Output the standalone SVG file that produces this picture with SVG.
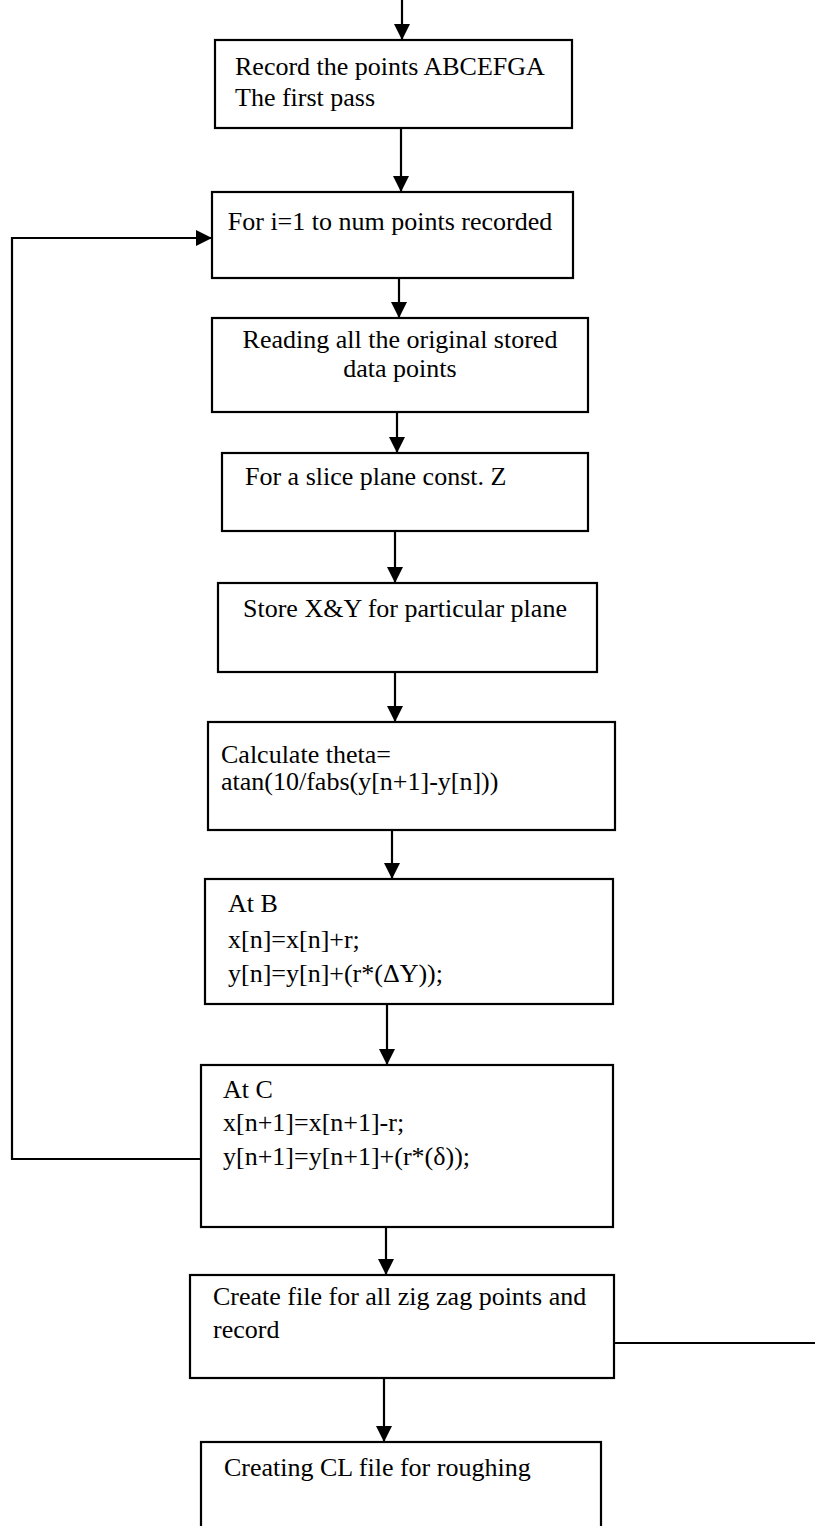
<svg xmlns="http://www.w3.org/2000/svg" width="815" height="1526" viewBox="0 0 815 1526">
  <style>
    .box { fill: #ffffff; stroke: #000000; stroke-width: 2.2; }
    .edge { fill: none; stroke: #000000; stroke-width: 2.2; }
    .t { font-family: "Liberation Serif", "Times New Roman", serif; font-size: 26px; fill: #000000; }
    .c { text-anchor: middle; }
  </style>
  <defs>
    <marker id="arr" markerUnits="userSpaceOnUse" markerWidth="16" markerHeight="16" refX="16" refY="8" orient="auto">
      <path d="M0,0 L16,8 L0,16 Z" fill="#000000"/>
    </marker>
  </defs>
  <rect width="815" height="1526" fill="#ffffff"/>

  <g id="connectors">
    <line class="edge" x1="402" y1="0" x2="402" y2="40" marker-end="url(#arr)"/>
    <line class="edge" x1="401" y1="128" x2="401" y2="192" marker-end="url(#arr)"/>
    <line class="edge" x1="399" y1="278" x2="399" y2="318" marker-end="url(#arr)"/>
    <line class="edge" x1="397" y1="412" x2="397" y2="453" marker-end="url(#arr)"/>
    <line class="edge" x1="395" y1="531" x2="395" y2="583" marker-end="url(#arr)"/>
    <line class="edge" x1="395" y1="672" x2="395" y2="722" marker-end="url(#arr)"/>
    <line class="edge" x1="392" y1="830" x2="392" y2="879" marker-end="url(#arr)"/>
    <line class="edge" x1="387" y1="1004" x2="387" y2="1065" marker-end="url(#arr)"/>
    <line class="edge" x1="386" y1="1227" x2="386" y2="1275" marker-end="url(#arr)"/>
    <line class="edge" x1="384" y1="1378" x2="384" y2="1442" marker-end="url(#arr)"/>
    <polyline class="edge" points="201,1159 12,1159 12,238 212,238" marker-end="url(#arr)"/>
    <line class="edge" x1="614" y1="1343" x2="815" y2="1343"/>
  </g>

  <g id="n1">
    <rect class="box" x="215" y="40" width="357" height="88"/>
    <text class="t" x="235" y="75">Record the points ABCEFGA</text>
    <text class="t" x="235" y="106">The first pass</text>
  </g>
  <g id="n2">
    <rect class="box" x="212" y="192" width="361" height="86"/>
    <text class="t c" x="390" y="230">For i=1 to num points recorded</text>
  </g>
  <g id="n3">
    <rect class="box" x="212" y="318" width="376" height="94"/>
    <text class="t c" x="400" y="348">Reading all the original stored</text>
    <text class="t c" x="400" y="377">data points</text>
  </g>
  <g id="n4">
    <rect class="box" x="222" y="453" width="366" height="78"/>
    <text class="t" x="245" y="485">For a slice plane const. Z</text>
  </g>
  <g id="n5">
    <rect class="box" x="218" y="583" width="379" height="89"/>
    <text class="t" x="243" y="617">Store X&amp;Y for particular plane</text>
  </g>
  <g id="n6">
    <rect class="box" x="208" y="722" width="407" height="108"/>
    <text class="t" x="221" y="763">Calculate theta=</text>
    <text class="t" x="221" y="790">atan(10/fabs(y[n+1]-y[n]))</text>
  </g>
  <g id="n7">
    <rect class="box" x="205" y="879" width="408" height="125"/>
    <text class="t" x="228" y="912">At B</text>
    <text class="t" x="228" y="948">x[n]=x[n]+r;</text>
    <text class="t" x="228" y="982">y[n]=y[n]+(r*(ΔY));</text>
  </g>
  <g id="n8">
    <rect class="box" x="201" y="1065" width="412" height="162"/>
    <text class="t" x="223" y="1098">At C</text>
    <text class="t" x="223" y="1131">x[n+1]=x[n+1]-r;</text>
    <text class="t" x="223" y="1165">y[n+1]=y[n+1]+(r*(δ));</text>
  </g>
  <g id="n9">
    <rect class="box" x="190" y="1275" width="424" height="103"/>
    <text class="t" x="213" y="1305">Create file for all zig zag points and</text>
    <text class="t" x="213" y="1338">record</text>
  </g>
  <g id="n10">
    <rect class="box" x="201" y="1442" width="400" height="110"/>
    <text class="t" x="224" y="1476">Creating CL file for roughing</text>
  </g>
</svg>
